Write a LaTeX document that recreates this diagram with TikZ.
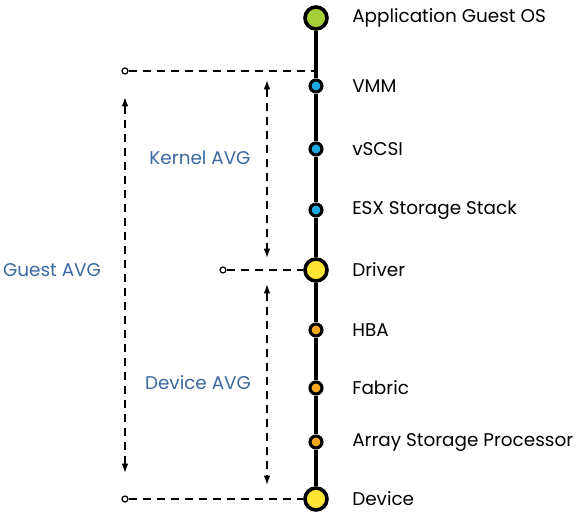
\documentclass[tikz,border=0pt]{standalone}
\usepackage{fontspec}
\setmainfont{Poppins}
\usetikzlibrary{arrows.meta}
\definecolor{appgreen}{HTML}{A6CE39}
\definecolor{vmblue}{HTML}{1BA9E0}
\definecolor{hwyellow}{HTML}{FFE535}
\definecolor{hworange}{HTML}{F7A823}
\definecolor{avgblue}{HTML}{3A679E}

\begin{document}
\begin{tikzpicture}[x=0.75pt, y=-0.75pt, font=\fontsize{13.8}{16}\selectfont,
	big/.style={circle, draw, line width=2.7pt, minimum size=16.5pt, inner sep=0pt},
	small/.style={circle, draw, line width=2.3pt, minimum size=9pt, inner sep=0pt},
	tip/.style={circle, draw, line width=0.9pt, fill=white, minimum size=4.5pt, inner sep=0pt},
	lbl/.style={anchor=west, inner sep=0pt},
	avg/.style={text=avgblue, inner sep=0pt},
	guide/.style={line width=1.1pt, dash pattern=on 6pt off 4.5pt},
	span/.style={guide, {Latex[length=7pt,width=5pt]}-{Latex[length=7pt,width=5pt]}}]
	\useasboundingbox (0,0) rectangle (579,516);
	\newcommand {\ax}{316}
	% stack of layers
	\foreach \n/\y/\s/\c/\t in {app/18/big/appgreen/Application Guest OS,
		vmm/86/small/vmblue/VMM, vscsi/149/small/vmblue/vSCSI,
		esx/210/small/vmblue/ESX Storage Stack, drv/270/big/hwyellow/Driver,
		hba/330/small/hworange/HBA, fab/388/small/hworange/Fabric,
		asp/442/small/hworange/Array Storage Processor, dev/499/big/hwyellow/Device}
	{
		\node[\s, fill=\c] (\n) at (\ax,\y) {};
		\node[lbl] (\n-txt) at (352,\y) {\t};
	}
	\foreach \a/\b in {app/vmm, vmm/vscsi, vscsi/esx, esx/drv, drv/hba, hba/fab, fab/asp, asp/dev}
	{
		\draw[line width=3pt] (\a) -- (\b);
	}
	% reference lines
	\node[tip] (gtop) at (125,71) {}; \coordinate (gtop-end) at (\ax,71);
	\node[tip] (dtop) at (223,270) {};
	\node[tip] (gbot) at (125,499) {};
	\draw[guide] (gtop) -- (gtop-end);
	\draw[guide] (dtop) -- (drv);
	\draw[guide] (gbot) -- (dev);
	% spans
	\coordinate (g1) at (125,97); \coordinate (g2) at (125,473);
	\coordinate (k1) at (267,80); \coordinate (k2) at (267,258);
	\coordinate (d1) at (267,284); \coordinate (d2) at (267,485);
	\draw[span] (g1) -- (g2);
	\draw[span] (k1) -- (k2);
	\draw[span] (d1) -- (d2);
	\node[avg] (guest) at (52,270) {Guest AVG};
	\node[avg] (kernel) at (200,158) {Kernel AVG};
	\node[avg] (device) at (198,383) {Device AVG};
\end{tikzpicture}
\end{document}
